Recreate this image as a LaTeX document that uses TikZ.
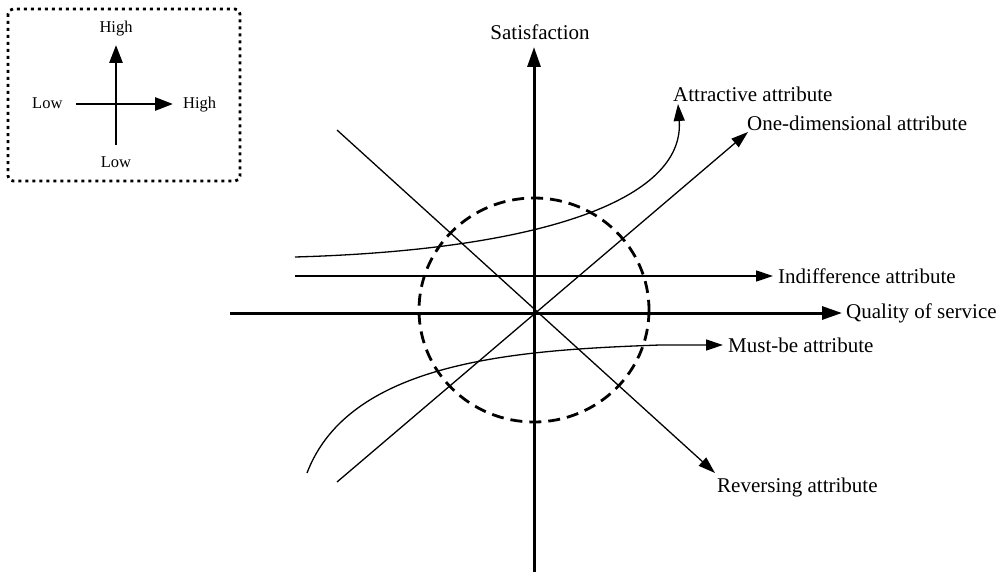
\documentclass[tikz,border=0pt]{standalone}
\usepackage{fontspec}
\setmainfont{Liberation Serif}
\usetikzlibrary{arrows.meta}
\begin{document}
\begin{tikzpicture}[x=1pt,y=-1pt,
  axisline/.style={line width=3pt,-{Triangle[length=20pt,width=13pt]}},
  thinarrow/.style={line width=1.3pt,-{Triangle[length=17pt,width=11pt]}},
  thinline/.style={line width=1.3pt},
  legarrow/.style={line width=2.8pt,-{Triangle[length=18pt,width=13pt]}},
  lbl/.style={inner sep=0pt,font=\fontsize{21pt}{25pt}\selectfont},
  leglbl/.style={inner sep=0pt,font=\fontsize{16.5pt}{19pt}\selectfont},
  dashcircle/.style={line width=2.8pt,dash pattern=on 12pt off 7pt},
  legbox/.style={line width=2.8pt,dash pattern=on 3pt off 4pt,rounded corners=5pt}]
\useasboundingbox (0,0) rectangle (1000,575);
% legend
\draw[legbox] (8,9) rectangle (240,181);
\coordinate (lvb) at (116,145);
\coordinate (lvt) at (116,45);
\coordinate (lhl) at (76,104);
\coordinate (lhr) at (173,104);
\draw[legarrow] (lvb) -- (lvt);
\draw[legarrow] (lhl) -- (lhr);
\node[leglbl,anchor=base] (lhigh1) at (116,33) {High};
\node[leglbl,anchor=base] (llow1) at (116,167) {Low};
\node[leglbl,anchor=base west] (llow2) at (32,109) {Low};
\node[leglbl,anchor=base west] (lhigh2) at (183,109) {High};
% main axes
\coordinate (O) at (534,313);
\coordinate (vb) at (534,572);
\coordinate (vt) at (534,47);
\coordinate (hl) at (230,313);
\coordinate (hr) at (842,313);
\draw[dashcircle] (534,310) ellipse [x radius=115, y radius=112];
\draw[axisline] (vb) -- (vt);
\draw[axisline] (hl) -- (hr);
\node[lbl,anchor=base] (sat) at (540,40) {Satisfaction};
\node[lbl,anchor=base west] (qos) at (846,318) {Quality of service};
% attribute curves
\coordinate (a0) at (295,257);
\coordinate (a1) at (678,104);
\draw[thinarrow] (a0) .. controls (540,250) and (685,200) .. (a1);
\node[lbl,anchor=base west] (attr) at (673,102) {Attractive attribute};
\coordinate (d0) at (337,482);
\coordinate (d1) at (748,132);
\draw[thinarrow] (d0) -- (d1);
\node[lbl,anchor=base west] (oned) at (747,130) {One-dimensional attribute};
\coordinate (i0) at (295,276);
\coordinate (i1) at (773,276);
\draw[thinarrow] (i0) -- (i1);
\node[lbl,anchor=base west] (indiff) at (778,283) {Indifference attribute};
\coordinate (m0) at (307,473);
\coordinate (m1) at (723,345);
\draw[thinarrow] (m0) .. controls (350,360) and (520,350) .. (660,345) -- (m1);
\node[lbl,anchor=base west] (must) at (728,352) {Must-be attribute};
\coordinate (r0) at (337,130);
\coordinate (r1) at (715,473);
\draw[thinarrow] (r0) -- (r1);
\node[lbl,anchor=base west] (rev) at (717,492) {Reversing attribute};
\end{tikzpicture}
\end{document}
